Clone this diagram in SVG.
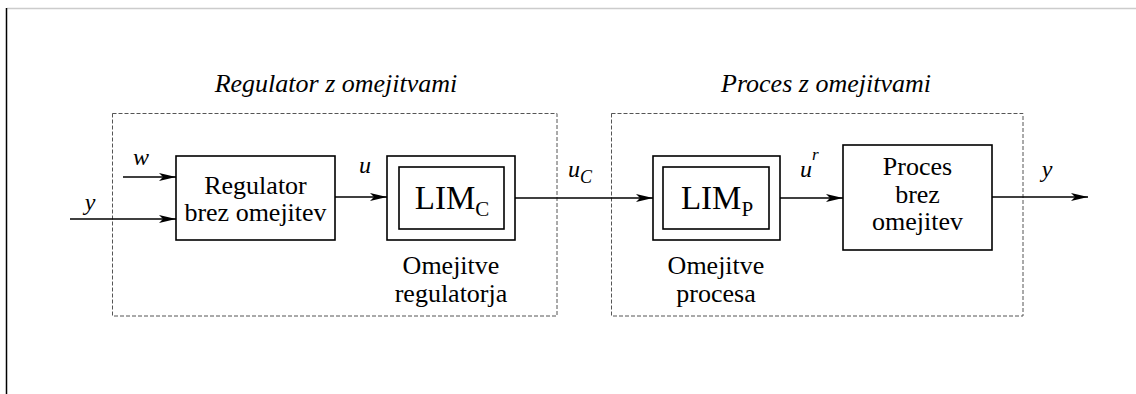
<svg xmlns="http://www.w3.org/2000/svg" width="1136" height="394" viewBox="0 0 1136 394">
<defs>
<style>
.t{font-family:"Liberation Serif","Times New Roman",serif;fill:#000}
.i{font-style:italic}
.b{font-size:26px;text-anchor:middle}
.box{fill:none;stroke:#000;stroke-width:1.6}
.dash{fill:none;stroke:#555;stroke-width:1;stroke-dasharray:4,2}
.ln{fill:none;stroke:#000;stroke-width:1.3}
</style>
<marker id="ah" markerWidth="18" markerHeight="8" refX="17" refY="4" orient="auto" markerUnits="userSpaceOnUse">
<path d="M0,0 L17,4 L0,8 L4,4 Z" fill="#000"/>
</marker>
</defs>
<rect width="1136" height="394" fill="#fff"/>
<line x1="7" y1="8.5" x2="1136" y2="8.5" stroke="#ccc" stroke-width="1.5"/>
<line x1="6.5" y1="8" x2="6.5" y2="394" stroke="#000" stroke-width="1.5"/>

<g id="group-regulator">
<rect class="dash" x="112.5" y="113.5" width="444.5" height="202.5"/>
<text class="t i" x="336" y="92" font-size="26" text-anchor="middle">Regulator z omejitvami</text>
</g>
<g id="group-proces">
<rect class="dash" x="611.5" y="113.5" width="411.5" height="202.5"/>
<text class="t i" x="826" y="92" font-size="26" text-anchor="middle">Proces z omejitvami</text>
</g>

<g id="regulator">
<rect class="box" x="176" y="156" width="159" height="84"/>
<text class="t b" x="255.5" y="194">Regulator</text>
<text class="t b" x="255.5" y="221">brez omejitev</text>
</g>
<g id="limc">
<rect class="box" x="387" y="156" width="128" height="84"/>
<rect class="box" x="399" y="167" width="105" height="62" stroke-width="1"/>
<text class="t" x="452" y="209" font-size="33" text-anchor="middle">LIM<tspan font-size="21" dy="7">C</tspan></text>
<text class="t b" x="451" y="274">Omejitve</text>
<text class="t b" x="451" y="302">regulatorja</text>
</g>
<g id="limp">
<rect class="box" x="653" y="156" width="127" height="84"/>
<rect class="box" x="663" y="167" width="106" height="62" stroke-width="1"/>
<text class="t" x="717" y="209" font-size="33" text-anchor="middle">LIM<tspan font-size="21" dy="7">P</tspan></text>
<text class="t b" x="716" y="274">Omejitve</text>
<text class="t b" x="716" y="302">procesa</text>
</g>
<g id="proces">
<rect class="box" x="843" y="145" width="149" height="105"/>
<text class="t b" x="917.5" y="175">Proces</text>
<text class="t b" x="917.5" y="203">brez</text>
<text class="t b" x="917.5" y="230">omejitev</text>
</g>

<g id="connectors">
<line class="ln" x1="123" y1="177" x2="176" y2="177" marker-end="url(#ah)"/>
<line class="ln" x1="70" y1="219" x2="176" y2="219" marker-end="url(#ah)"/>
<line class="ln" x1="335" y1="197" x2="387" y2="197" marker-end="url(#ah)"/>
<line class="ln" x1="515" y1="198" x2="653" y2="198" marker-end="url(#ah)"/>
<line class="ln" x1="780" y1="198" x2="843" y2="198" marker-end="url(#ah)"/>
<line class="ln" x1="992" y1="197" x2="1088" y2="197" marker-end="url(#ah)"/>
<text class="t i" x="141" y="165" font-size="24" text-anchor="middle">w</text>
<text class="t i" x="90" y="210" font-size="24" text-anchor="middle">y</text>
<text class="t i" x="365" y="173" font-size="24" text-anchor="middle">u</text>
<text class="t i" x="568" y="177" font-size="24">u<tspan font-size="18" dy="6">C</tspan></text>
<text class="t i" x="800" y="177" font-size="24">u</text>
<text class="t i" x="812" y="160" font-size="17">r</text>
<text class="t i" x="1047" y="177" font-size="24" text-anchor="middle">y</text>
</g>
</svg>
